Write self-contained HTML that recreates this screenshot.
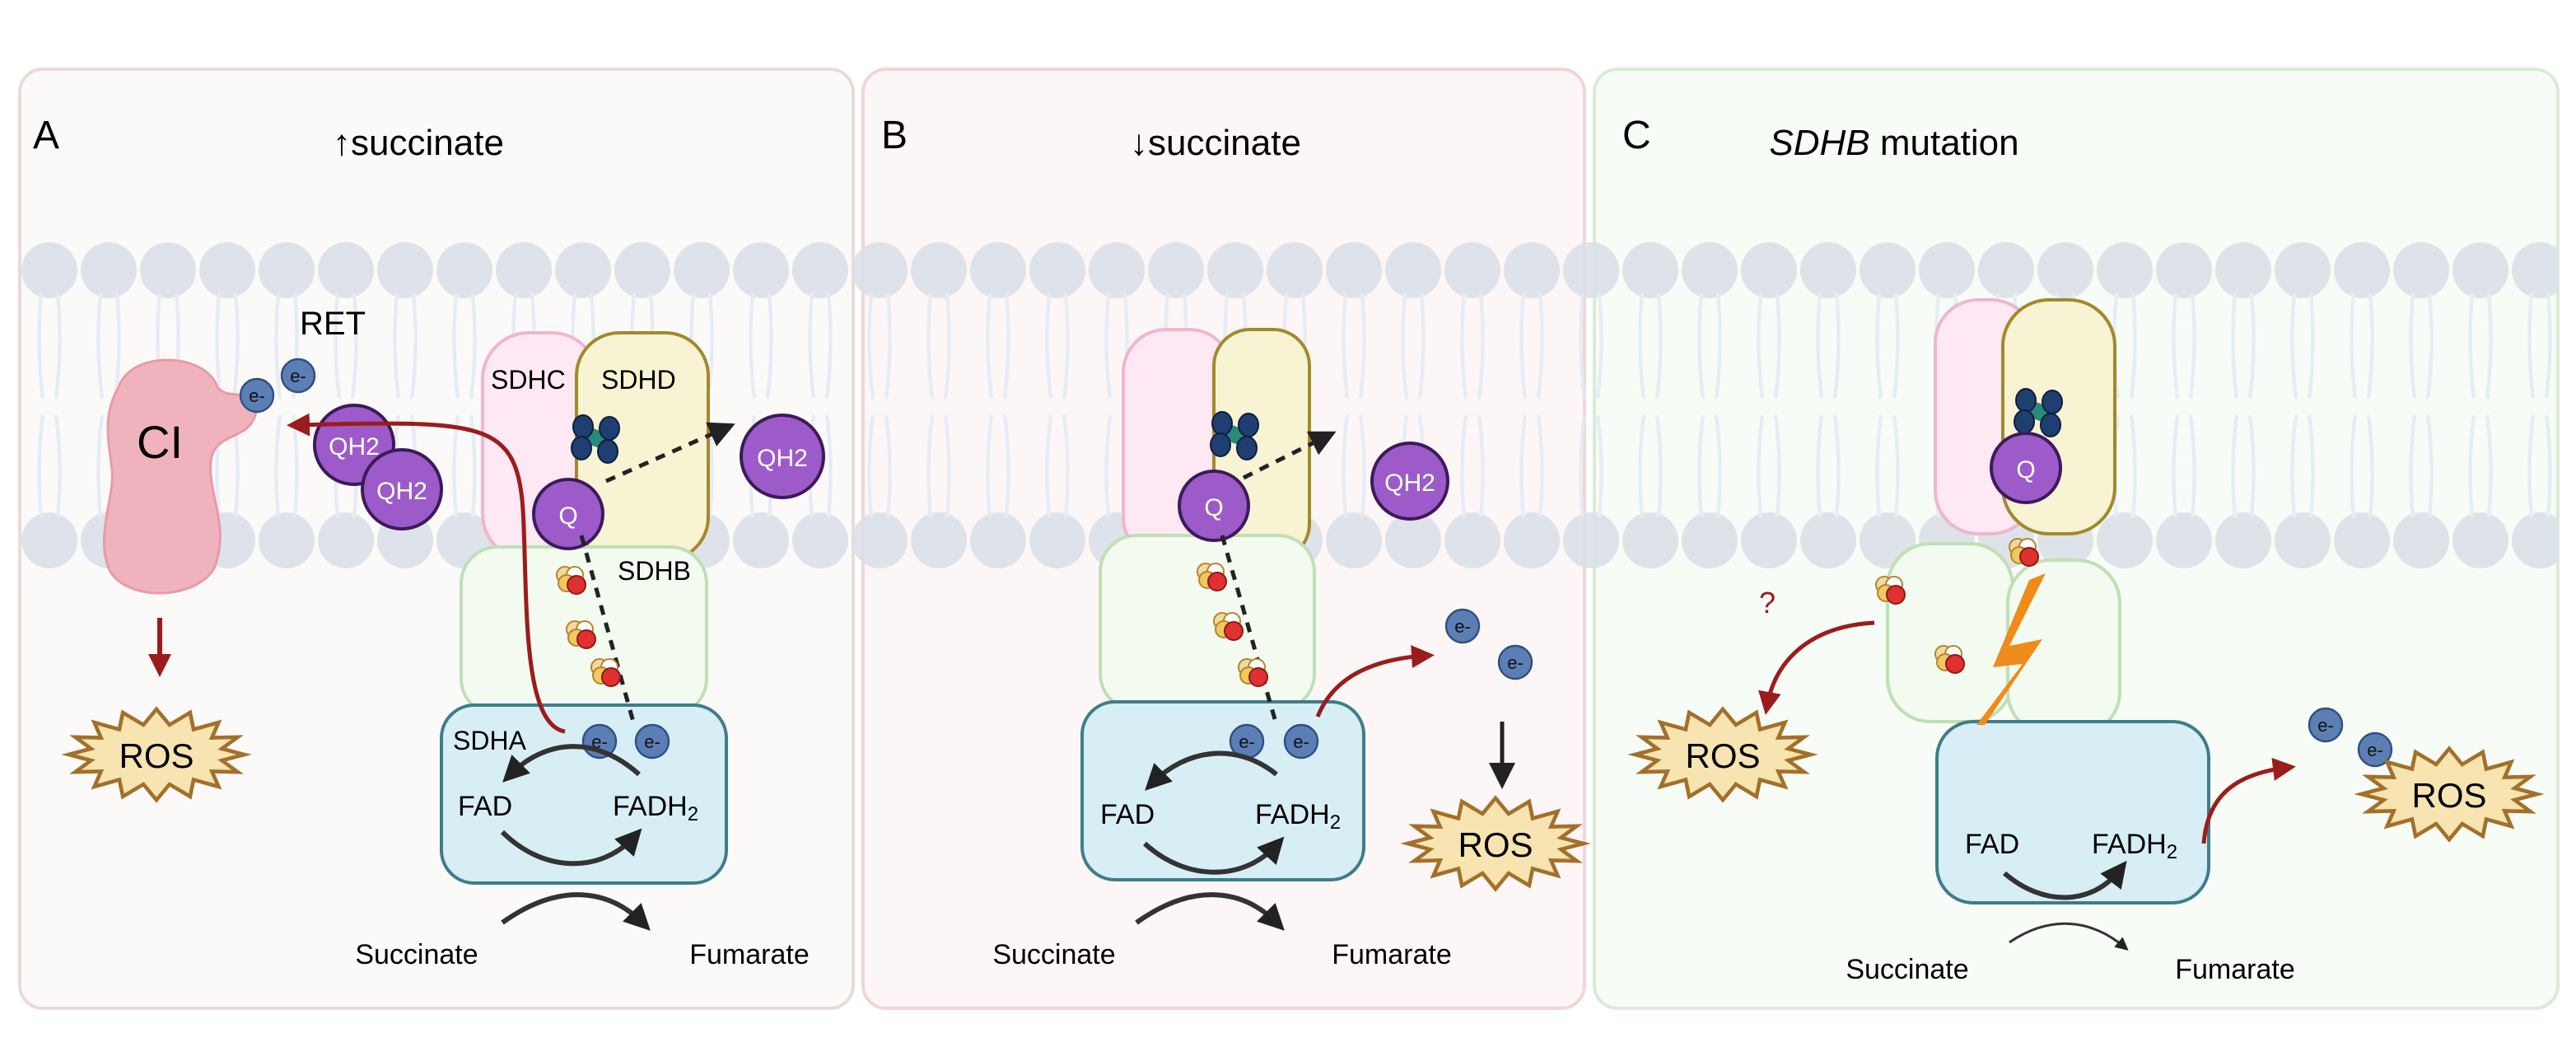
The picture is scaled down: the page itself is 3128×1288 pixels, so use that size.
<!DOCTYPE html>
<html><head><meta charset="utf-8"><style>
html,body{margin:0;padding:0;background:#fff}
svg{display:block}
text{font-family:"Liberation Sans",sans-serif}
</style></head><body>
<svg width="3128" height="1288" viewBox="0 0 1564 644" xmlns="http://www.w3.org/2000/svg">
<defs>
<pattern id="mem" x="12" y="0" width="36" height="644" patternUnits="userSpaceOnUse">
<circle cx="18" cy="164" r="17" fill="#d9dfe8"/>
<circle cx="18" cy="328" r="17" fill="#d9dfe8"/>
<path d="M13,178 Q10,210 14,242 M23,178 Q26,210 22,242 M13,314 Q10,282 14,252 M23,314 Q26,282 22,252" stroke="#e2eaf5" stroke-width="2.2" fill="none"/>
</pattern>
<polygon id="star" transform="scale(0.92)" points="58,0 43.2,3.9 53.6,11.5 36.6,11.1 41,21.2 24.5,16.6 22.2,27.7 8.6,19.6 0,30 -8.6,19.6 -22.2,27.7 -24.5,16.6 -41,21.2 -36.6,11.1 -53.6,11.5 -43.2,3.9 -58,0 -43.2,-3.9 -53.6,-11.5 -36.6,-11.1 -41,-21.2 -24.5,-16.6 -22.2,-27.7 -8.6,-19.6 0,-30 8.6,-19.6 22.2,-27.7 24.5,-16.6 41,-21.2 36.6,-11.1 53.6,-11.5 43.2,-3.9" fill="#f7e4b0" stroke="#a3702a" stroke-width="2.5" stroke-linejoin="miter"/>
<marker id="ab" markerWidth="8" markerHeight="8" refX="5" refY="4" orient="auto" markerUnits="userSpaceOnUse"><path d="M0,0 L8,4 L0,8z" fill="#222"/></marker>
<marker id="ar" markerWidth="14" markerHeight="14" refX="8" refY="7" orient="auto" markerUnits="userSpaceOnUse"><path d="M0,0 L14,7 L0,14z" fill="#9b1c1c"/></marker>
<marker id="ak" markerWidth="16" markerHeight="16" refX="9" refY="8" orient="auto" markerUnits="userSpaceOnUse"><path d="M0,0 L16,8 L0,16z" fill="#222"/></marker>
<g id="fes"><circle cx="-3" cy="-3" r="5" fill="#f4d9a0" stroke="#b3862a" stroke-width="1"/><circle cx="3" cy="-3" r="5" fill="#fff" stroke="#b3862a" stroke-width="1"/><circle cx="-2" cy="2" r="5" fill="#f2c860" stroke="#b3862a" stroke-width="1"/><circle cx="4" cy="3" r="5.5" fill="#e03030" stroke="#8a1a1a" stroke-width="1"/></g>
<g id="clu"><rect x="-5" y="-5" width="10" height="10" fill="#2a8a7a" transform="rotate(20)"/><ellipse cx="-8" cy="-7" rx="6" ry="7" fill="#1f3f73" stroke="#0d1f3a"/><ellipse cx="8" cy="-6" rx="6" ry="7" fill="#1f3f73" stroke="#0d1f3a"/><ellipse cx="-9" cy="6" rx="6" ry="7" fill="#1f3f73" stroke="#0d1f3a"/><ellipse cx="7" cy="8" rx="6" ry="7" fill="#1f3f73" stroke="#0d1f3a"/></g>
<g id="em"><circle r="10" fill="#5b7fb5" stroke="#2f4f80" stroke-width="1.2"/><text x="0" y="4" font-size="11" text-anchor="middle" fill="#111">e-</text></g>
</defs>

<rect x="12" y="42" width="506" height="570" rx="14" fill="#fcfaf9" stroke="#eadbd8" stroke-width="2"/>
<rect x="524" y="42" width="438" height="570" rx="14" fill="#fdf6f6" stroke="#f1d6d6" stroke-width="2"/>
<rect x="968" y="42" width="585" height="570" rx="14" fill="#f7fcf6" stroke="#d9ecd5" stroke-width="2"/>

<rect x="12" y="140" width="1541" height="210" fill="url(#mem)" opacity="0.85"/>

<text x="20" y="90" font-size="24">A</text>
<text x="254" y="94" font-size="22" text-anchor="middle">↑succinate</text>
<text x="535" y="90" font-size="24">B</text>
<text x="738" y="94" font-size="22" text-anchor="middle">↓succinate</text>
<text x="985" y="90" font-size="24">C</text>
<text x="1150" y="94" font-size="22" text-anchor="middle"><tspan font-style="italic">SDHB</tspan> mutation</text>

<!-- Panel A -->
<path d="M72,235 C80,212 125,214 132,235 C140,245 160,232 155,252 C150,268 130,262 128,280 C126,300 140,320 130,345 C118,365 75,365 66,345 C58,325 70,300 68,285 C66,268 62,252 72,235 Z" fill="#f0b3bd" stroke="#e89aa8" stroke-width="1.5"/>
<text x="97" y="278" font-size="28" text-anchor="middle">CI</text>
<use href="#em" x="156" y="240"/><use href="#em" x="181" y="228"/>
<text x="182" y="203" font-size="20">RET</text>
<line x1="97" y1="375" x2="97" y2="405" stroke="#9b1c1c" stroke-width="3" marker-end="url(#ar)"/>
<use href="#star" x="95" y="458"/>
<text x="95" y="466" font-size="21" text-anchor="middle">ROS</text>

<rect x="293" y="202" width="70" height="138" rx="28" fill="#fde8f3" stroke="#efb6cf" stroke-width="2"/>
<rect x="350" y="202" width="80" height="138" rx="26" fill="#f7f3d3" stroke="#a3892d" stroke-width="2"/>
<text x="298" y="236" font-size="16">SDHC</text>
<text x="365" y="236" font-size="16">SDHD</text>
<rect x="280" y="332" width="149" height="102" rx="22" fill="#f3faf0" stroke="#bfe0b5" stroke-width="2"/>
<text x="375" y="352" font-size="16">SDHB</text>
<rect x="268" y="428" width="173" height="108" rx="20" fill="#d7eef5" stroke="#3e7d8a" stroke-width="2"/>
<text x="275" y="455" font-size="16">SDHA</text>

<circle cx="215" cy="270" r="24" fill="#9c5bc9" stroke="#3d1a5a" stroke-width="2"/>
<text x="215" y="276" font-size="15" text-anchor="middle" fill="#fff">QH2</text>
<circle cx="244" cy="297" r="24" fill="#9c5bc9" stroke="#3d1a5a" stroke-width="2"/>
<text x="244" y="303" font-size="15" text-anchor="middle" fill="#fff">QH2</text>
<path d="M343,444 C318,440 320,370 318,320 C316,255 300,255 180,258" stroke="#9b1c1c" stroke-width="2.5" fill="none" marker-end="url(#ar)"/>

<use href="#clu" x="362" y="266"/>
<circle cx="345" cy="312" r="21" fill="#9c5bc9" stroke="#3d1a5a" stroke-width="2"/>
<text x="345" y="318" font-size="15" text-anchor="middle" fill="#fff">Q</text>
<path d="M368,292 L440,260" stroke="#222" stroke-width="2.5" stroke-dasharray="6,5" fill="none" marker-end="url(#ak)"/>
<circle cx="475" cy="277" r="25" fill="#9c5bc9" stroke="#3d1a5a" stroke-width="2"/>
<text x="475" y="283" font-size="15" text-anchor="middle" fill="#fff">QH2</text>
<path d="M353,325 L385,440" stroke="#222" stroke-width="2.5" stroke-dasharray="6,5"/>
<use href="#fes" x="346" y="352"/><use href="#fes" x="352" y="385"/><use href="#fes" x="367" y="408"/>
<use href="#em" x="364" y="450"/><use href="#em" x="396" y="450"/>
<text x="278" y="495" font-size="17">FAD</text>
<text x="372" y="495" font-size="17">FADH<tspan font-size="12" dy="3">2</tspan></text>
<path d="M388,470 C360,445 330,450 310,470" stroke="#333" stroke-width="3" fill="none" marker-end="url(#ak)"/>
<path d="M305,505 C330,530 365,530 385,508" stroke="#333" stroke-width="3" fill="none" marker-end="url(#ak)"/>
<path d="M305,560 C340,535 370,540 390,560" stroke="#333" stroke-width="3" fill="none" marker-end="url(#ak)"/>
<text x="253" y="585" font-size="17" text-anchor="middle">Succinate</text>
<text x="455" y="585" font-size="17" text-anchor="middle">Fumarate</text>

<!-- Panel B -->
<rect x="682" y="200" width="66" height="140" rx="26" fill="#fde8f3" stroke="#efb6cf" stroke-width="2"/>
<rect x="737" y="200" width="58" height="140" rx="22" fill="#f7f3d3" stroke="#a3892d" stroke-width="2"/>
<rect x="668" y="325" width="130" height="106" rx="22" fill="#f3faf0" stroke="#bfe0b5" stroke-width="2"/>
<rect x="657" y="426" width="171" height="108" rx="20" fill="#d7eef5" stroke="#3e7d8a" stroke-width="2"/>
<use href="#clu" x="750" y="264"/>
<circle cx="737" cy="307" r="21" fill="#9c5bc9" stroke="#3d1a5a" stroke-width="2"/>
<text x="737" y="313" font-size="15" text-anchor="middle" fill="#fff">Q</text>
<path d="M755,290 L805,265" stroke="#222" stroke-width="2.5" stroke-dasharray="6,5" fill="none" marker-end="url(#ak)"/>
<circle cx="856" cy="292" r="23" fill="#9c5bc9" stroke="#3d1a5a" stroke-width="2"/>
<text x="856" y="298" font-size="15" text-anchor="middle" fill="#fff">QH2</text>
<path d="M742,325 L775,440" stroke="#222" stroke-width="2.5" stroke-dasharray="6,5"/>
<use href="#fes" x="735" y="350"/><use href="#fes" x="745" y="380"/><use href="#fes" x="760" y="408"/>
<use href="#em" x="757" y="450"/><use href="#em" x="790" y="450"/>
<path d="M800,435 C810,410 835,400 865,398" stroke="#9b1c1c" stroke-width="2.5" fill="none" marker-end="url(#ar)"/>
<use href="#em" x="888" y="380"/><use href="#em" x="920" y="402"/>
<line x1="912" y1="438" x2="912" y2="472" stroke="#222" stroke-width="2.5" marker-end="url(#ak)"/>
<use href="#star" x="908" y="512"/>
<text x="908" y="520" font-size="21" text-anchor="middle">ROS</text>
<text x="668" y="500" font-size="17">FAD</text>
<text x="762" y="500" font-size="17">FADH<tspan font-size="12" dy="3">2</tspan></text>
<path d="M775,470 C750,450 720,455 700,475" stroke="#333" stroke-width="3" fill="none" marker-end="url(#ak)"/>
<path d="M695,512 C720,535 755,535 775,513" stroke="#333" stroke-width="3" fill="none" marker-end="url(#ak)"/>
<path d="M690,560 C725,535 755,540 775,560" stroke="#333" stroke-width="3" fill="none" marker-end="url(#ak)"/>
<text x="640" y="585" font-size="17" text-anchor="middle">Succinate</text>
<text x="845" y="585" font-size="17" text-anchor="middle">Fumarate</text>

<!-- Panel C -->
<rect x="1175" y="182" width="60" height="142" rx="26" fill="#fde8f3" stroke="#efb6cf" stroke-width="2"/>
<rect x="1216" y="182" width="68" height="142" rx="28" fill="#f7f3d3" stroke="#a3892d" stroke-width="2"/>
<use href="#clu" x="1238" y="250"/>
<circle cx="1230" cy="284" r="21" fill="#9c5bc9" stroke="#3d1a5a" stroke-width="2"/>
<text x="1230" y="290" font-size="15" text-anchor="middle" fill="#fff">Q</text>
<rect x="1146" y="330" width="76" height="108" rx="26" fill="#f3faf0" stroke="#bfe0b5" stroke-width="2"/>
<rect x="1219" y="340" width="68" height="106" rx="26" fill="#f3faf0" stroke="#bfe0b5" stroke-width="2"/>
<rect x="1176" y="438" width="165" height="110" rx="22" fill="#d7eef5" stroke="#3e7d8a" stroke-width="2"/>
<use href="#fes" x="1228" y="335"/><use href="#fes" x="1147" y="358"/><use href="#fes" x="1183" y="400"/>
<polygon points="1242,348 1220,392 1240,388 1205,440 1200,440 1228,403 1210,405 1232,352" fill="#f08a1a"/>
<text x="1073" y="372" font-size="18" fill="#9b1c1c" text-anchor="middle">?</text>
<path d="M1138,378 C1100,380 1078,400 1073,428" stroke="#9b1c1c" stroke-width="2.5" fill="none" marker-end="url(#ar)"/>
<use href="#star" x="1046" y="458"/>
<text x="1046" y="466" font-size="21" text-anchor="middle">ROS</text>
<path d="M1338,512 C1340,485 1355,470 1388,466" stroke="#9b1c1c" stroke-width="2.5" fill="none" marker-end="url(#ar)"/>
<use href="#em" x="1412" y="440"/><use href="#em" x="1442" y="455"/>
<use href="#star" x="1487" y="482"/>
<text x="1487" y="490" font-size="21" text-anchor="middle">ROS</text>
<text x="1193" y="518" font-size="17">FAD</text>
<text x="1270" y="518" font-size="17">FADH<tspan font-size="12" dy="3">2</tspan></text>
<path d="M1217,530 C1240,550 1270,550 1287,528" stroke="#333" stroke-width="3" fill="none" marker-end="url(#ak)"/>
<path d="M1220,572 C1245,555 1270,558 1290,575" stroke="#333" stroke-width="1.5" fill="none" marker-end="url(#ab)"/>
<text x="1158" y="594" font-size="17" text-anchor="middle">Succinate</text>
<text x="1357" y="594" font-size="17" text-anchor="middle">Fumarate</text>
</svg>
</body></html>
